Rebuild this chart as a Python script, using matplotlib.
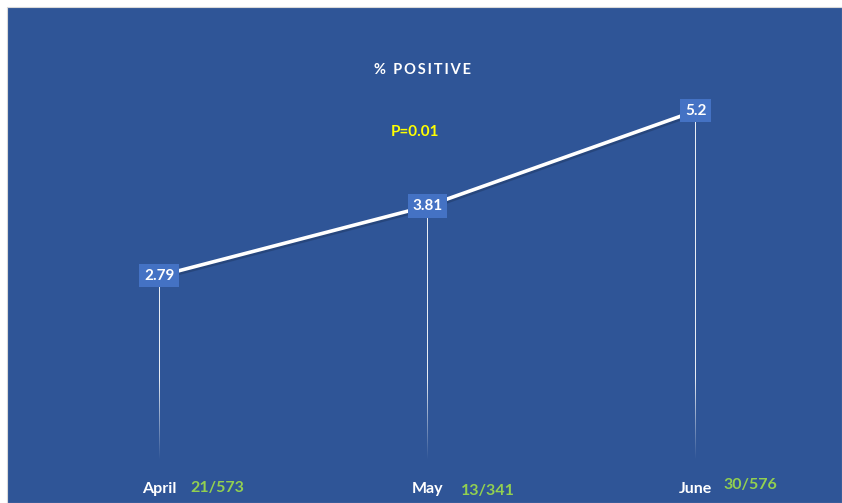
"""% positive by month, recreated with matplotlib."""

import matplotlib

matplotlib.use("Agg")

import matplotlib.pyplot as plt
import matplotlib.patheffects as pe
import numpy as np
from matplotlib.patches import Rectangle

months = ["April", "May", "June"]
pct_positive = [2.79, 3.81, 5.2]
counts = ["21/573", "13/341", "30/576"]
p_value_label = "P=0.01"
title = "% POSITIVE"

BG = "#2F5597"
BOX = "#4472C4"
GREEN = "#92D050"
YELLOW = "#FFFF00"
FONT = ["Lato", "DejaVu Sans"]

W, H = 842, 503
fig = plt.figure(figsize=(W / 100, H / 100), dpi=100, facecolor="white")
fig.patches.append(
    Rectangle((7 / W, 0), 1 - 7 / W, 1 - 7 / H, transform=fig.transFigure,
              facecolor=BG, edgecolor="#D9D9D9", linewidth=0.8, zorder=-10)
)

# axes placed so category 0..2 land at the reference pixel columns
left, right = 25, 830
bottom_px, top_px = 467, 56
ax = fig.add_axes([left / W, 1 - bottom_px / H, (right - left) / W,
                   (bottom_px - top_px) / H])
ax.set_facecolor("none")
xlim = (-0.5, len(months) - 0.5)
ylim = (0, 6)

x = np.arange(len(months))

# drop lines: solid from the point, fading smoothly near the baseline
fade_top, line_bottom = 1.3, 0.1
half_w = 0.5 * (xlim[1] - xlim[0]) / (right - left)  # about one pixel wide
for xi, v in zip(x, pct_positive):
    ys = np.linspace(v, line_bottom, 300)
    alpha = np.clip((ys - line_bottom) / (fade_top - line_bottom), 0, 1)
    grad = np.ones((len(ys), 1, 4))
    grad[:, 0, 3] = 0.9 * alpha
    ax.imshow(grad, extent=(xi - half_w, xi + half_w, line_bottom, v),
              origin="upper", aspect="auto", interpolation="bilinear", zorder=2)

ax.plot(x, pct_positive, color="white", linewidth=2.6, solid_capstyle="round",
        zorder=3,
        path_effects=[pe.SimpleLineShadow(offset=(0.8, -1.6), shadow_color="#1F3864",
                                          alpha=0.5), pe.Normal()])

for xi, v in zip(x, pct_positive):
    ax.text(xi, v, f"{v:g}", ha="center", va="center", color="white",
            fontsize=11, fontweight="bold", family=FONT, zorder=5,
            bbox=dict(boxstyle="square,pad=0.3", facecolor=BOX, edgecolor="none"))

ax.set_xlim(*xlim)
ax.set_ylim(*ylim)
ax.axis("off")

fig.text(423 / W, 1 - 70 / H, "\u2009".join(title), ha="center", va="center",
         color="white", fontsize=10.5, fontweight="bold", family=FONT)
fig.text(415 / W, 1 - 132 / H, p_value_label, ha="center", va="center",
         color=YELLOW, fontsize=11, fontweight="bold", family=FONT)

# month labels with their counts beside them
count_offsets = [(58, -1), (60, 2), (55, -4)]
for xi, month, count, (dx, dy) in zip(x, months, counts, count_offsets):
    px = ax.transData.transform((xi, 0))[0]
    fig.text(px / W, 1 - 489 / H, month, ha="center", va="center", color="white",
             fontsize=11.5, fontweight="bold", family=FONT)
    fig.text((px + dx) / W, 1 - (489 + dy) / H, count, ha="center", va="center",
             color=GREEN, fontsize=11.5, fontweight="bold", family=FONT)

fig.savefig("out.png", dpi=100, facecolor="white")
